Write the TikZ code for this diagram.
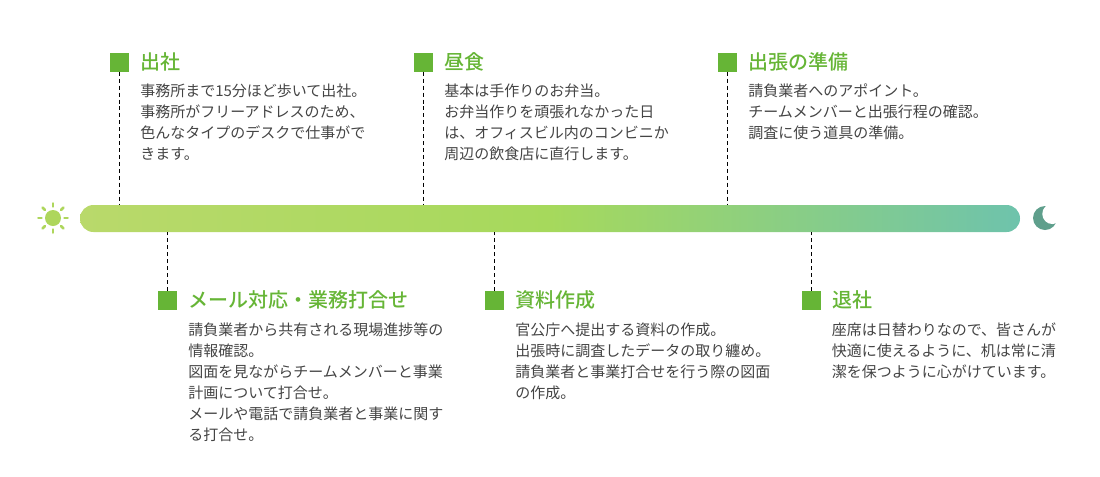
\documentclass[tikz,border=0pt]{standalone}
\usepackage{fontspec}
\usepackage{xcolor}
\usetikzlibrary{calc, positioning}
\newfontfamily\jpfont{Noto Sans CJK JP}
\newfontfamily\jptitle[UprightFont={* Medium}]{Noto Sans CJK JP}
\definecolor{leafgreen}{HTML}{66B536}
\definecolor{bodygray}{HTML}{444444}
\definecolor{sunlime}{HTML}{AED65C}
\definecolor{moonteal}{HTML}{5F9F8C}
\definecolor{barleft}{HTML}{B9D96B}
\definecolor{barmid}{HTML}{A6D95C}
\definecolor{barright}{HTML}{6EC3AC}
\pgfdeclarehorizontalshading{timeline}{100bp}{
    color(0bp)=(barleft); color(25bp)=(barleft); color(50bp)=(barmid); color(75bp)=(barright); color(100bp)=(barright)}
\tikzset{
    marker/.style={rectangle, fill=leafgreen, inner sep=0pt, minimum size=14.25pt},
    heading/.style={inner sep=0pt, anchor=west, text=leafgreen, font=\jptitle\fontsize{15pt}{18pt}\selectfont, text height=13.2pt, text depth=2pt},
    bodytext/.style={inner sep=0pt, anchor=north west, align=left, text=bodygray, font=\jpfont\fontsize{11.25pt}{15.75pt}\selectfont},
    stem/.style={black, line width=0.75pt, dash pattern=on 3pt off 2.2pt},
    ray/.style={sunlime, line width=2pt, line cap=round},
    bar/.style={rectangle, rounded corners=10.1pt, shading=timeline, inner sep=0pt, minimum width=705pt, minimum height=20.25pt}
}
\begin{document}
\begin{tikzpicture}[x=0.75pt, y=-0.75pt]
    \useasboundingbox (0,0) rectangle (1100,476);

    % Timeline
    \node[bar] (Bar) at (550,218.5) {};

    % Sun
    \node[circle, fill=sunlime, inner sep=0pt, minimum size=12pt] (Sun) at (53,218) {};
    \foreach \a in {0,45,...,315}
        \draw[ray] ($(Sun)+(\a:8.6pt)$) -- ($(Sun)+(\a:11pt)$);

    % Moon
    \node[circle, fill=moonteal, inner sep=0pt, minimum size=18pt] (Moon) at (1045,218) {};
    \node[circle, fill=white, inner sep=0pt, minimum size=15.2pt] (MoonCut) at (1052.4,213.9) {};

    % Upper items
    \node[marker] (sqA) at (119.5,62) {};
    \node[heading, right=7.9pt of sqA] (hA) {出社};
    \node[bodytext] (tA) at (140,83.5) {事務所まで15分ほど歩いて出社。\\事務所がフリーアドレスのため、\\色んなタイプのデスクで仕事がで\\きます。};

    \node[marker] (sqB) at (423.5,62) {};
    \node[heading, right=7.9pt of sqB] (hB) {昼食};
    \node[bodytext] (tB) at (444,83.5) {基本は手作りのお弁当。\\お弁当作りを頑張れなかった日\\は、オフィスビル内のコンビニか\\周辺の飲食店に直行します。};

    \node[marker] (sqC) at (727.5,62) {};
    \node[heading, right=7.9pt of sqC] (hC) {出張の準備};
    \node[bodytext] (tC) at (748,83.5) {請負業者へのアポイント。\\チームメンバーと出張行程の確認。\\調査に使う道具の準備。};

    % Lower items
    \node[marker] (sqD) at (167.5,300.5) {};
    \node[heading, right=7.9pt of sqD] (hD) {メール対応・業務打合せ};
    \node[bodytext] (tD) at (188,322.5) {請負業者から共有される現場進捗等の\\情報確認。\\図面を見ながらチームメンバーと事業\\計画について打合せ。\\メールや電話で請負業者と事業に関す\\る打合せ。};

    \node[marker] (sqE) at (494.5,300.5) {};
    \node[heading, right=7.9pt of sqE] (hE) {資料作成};
    \node[bodytext] (tE) at (515,322.5) {官公庁へ提出する資料の作成。\\出張時に調査したデータの取り纏め。\\請負業者と事業打合せを行う際の図面\\の作成。};

    \node[marker] (sqF) at (811.5,300.5) {};
    \node[heading, right=7.9pt of sqF] (hF) {退社};
    \node[bodytext] (tF) at (831.5,322.5) {座席は日替わりなので、皆さんが\\快適に使えるように、机は常に清\\潔を保つように心がけています。};

    % Stems
    \draw[stem] (sqA.south) -- (sqA.south |- Bar.north);
    \draw[stem] (sqB.south) -- (sqB.south |- Bar.north);
    \draw[stem] (sqC.south) -- (sqC.south |- Bar.north);
    \draw[stem] (sqD.north) -- (sqD.north |- Bar.south);
    \draw[stem] (sqE.north) -- (sqE.north |- Bar.south);
    \draw[stem] (sqF.north) -- (sqF.north |- Bar.south);
\end{tikzpicture}
\end{document}
